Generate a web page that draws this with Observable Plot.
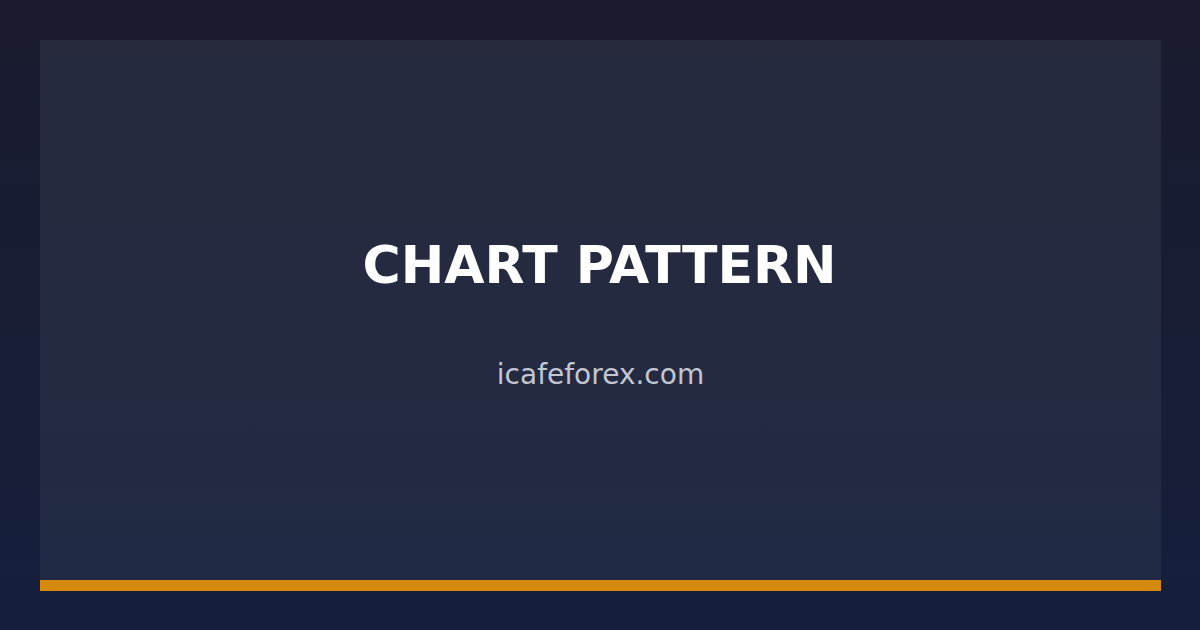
<!DOCTYPE html>
<html>
<head>
<meta charset="utf-8">
<script src="https://cdn.jsdelivr.net/npm/d3@7"></script>
<script src="https://cdn.jsdelivr.net/npm/@observablehq/plot@0.6"></script>
<style>
  html, body { margin: 0; padding: 0; width: 1200px; height: 630px; overflow: hidden; }
  body { background: linear-gradient(to bottom, #1a1b2e 0%, #151f3c 100%); }
  svg { display: block; }
</style>
</head>
<body>
<div id="chart"></div>
<script>
// Card content
const titles = ["CHART PATTERN"];
const subtitles = ["icafeforex.com"];
const panels = [{x1: 40, x2: 1161, y1: 40, y2: 580}];
const accents = [{x1: 40, x2: 1161, y1: 580, y2: 591}];

const chart = Plot.plot({
  width: 1200,
  height: 630,
  margin: 0,
  x: {domain: [0, 1200], range: [0, 1200], axis: null},
  y: {domain: [0, 630], range: [0, 630], axis: null},
  style: {background: "transparent", overflow: "visible"},
  marks: [
    Plot.rect(panels, {x1: "x1", x2: "x2", y1: "y1", y2: "y2", fill: "url(#panelGrad)"}),
    Plot.rect(accents, {x1: "x1", x2: "x2", y1: "y1", y2: "y2", fill: "#d4890f"}),
    Plot.text(titles, {
      x: () => 599, y: () => 282, text: d => d,
      fill: "#ffffff", fontSize: 52, fontWeight: "bold",
      fontFamily: "DejaVu Sans", textAnchor: "middle", lineAnchor: "bottom"
    }),
    Plot.text(subtitles, {
      x: () => 600, y: () => 383, text: d => d,
      fill: "#c3c6d1", fontSize: 28,
      fontFamily: "DejaVu Sans", textAnchor: "middle", lineAnchor: "bottom"
    })
  ]
});

const svg = d3.select(chart);
const defs = svg.insert("defs", ":first-child");
const g = defs.append("linearGradient").attr("id", "panelGrad")
  .attr("x1", 0).attr("y1", 0).attr("x2", 0).attr("y2", 1);
g.append("stop").attr("offset", "0%").attr("stop-color", "#272a3d");
g.append("stop").attr("offset", "100%").attr("stop-color", "#212a45");

document.getElementById("chart").appendChild(chart);
</script>
</body>
</html>
